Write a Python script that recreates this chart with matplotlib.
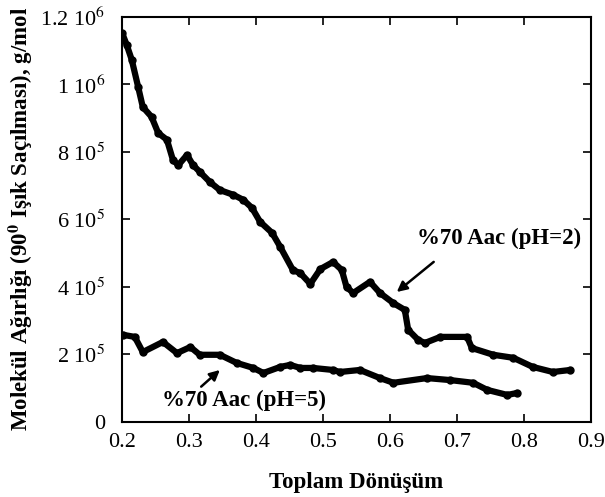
import numpy as np
import matplotlib
matplotlib.use('Agg')
import matplotlib.pyplot as plt

plt.rcParams['font.family'] = ['Liberation Serif', 'DejaVu Serif']
plt.rcParams['mathtext.fontset'] = 'stix'

# %70 Aac (pH=2)
x_ph2 = [0.200, 0.207, 0.2145, 0.224, 0.231, 0.244, 0.254, 0.267, 0.276, 0.284,
         0.297, 0.306, 0.316, 0.331, 0.346, 0.366, 0.381, 0.394, 0.406, 0.424,
         0.436, 0.455, 0.466, 0.481, 0.496, 0.515, 0.528, 0.535, 0.545, 0.570,
         0.585, 0.605, 0.622, 0.627, 0.642, 0.652, 0.675, 0.715, 0.722, 0.754,
         0.784, 0.813, 0.843, 0.869]
y_ph2 = [1.153e6, 1.117e6, 1.073e6, 0.993e6, 0.933e6, 0.904e6, 0.856e6, 0.836e6, 0.776e6, 0.761e6,
         0.791e6, 0.761e6, 0.741e6, 0.711e6, 0.687e6, 0.673e6, 0.658e6, 0.634e6, 0.593e6, 0.560e6,
         0.519e6, 0.450e6, 0.441e6, 0.409e6, 0.453e6, 0.474e6, 0.450e6, 0.400e6, 0.382e6, 0.415e6,
         0.382e6, 0.352e6, 0.332e6, 0.273e6, 0.243e6, 0.234e6, 0.252e6, 0.252e6, 0.219e6, 0.199e6,
         0.190e6, 0.163e6, 0.148e6, 0.154e6]

# %70 Aac (pH=5)
x_ph5 = [0.202, 0.219, 0.231, 0.261, 0.282, 0.302, 0.316, 0.346, 0.371, 0.396,
         0.411, 0.436, 0.451, 0.466, 0.485, 0.515, 0.525, 0.555, 0.585, 0.605,
         0.655, 0.690, 0.724, 0.745, 0.775, 0.790]
y_ph5 = [0.258e6, 0.252e6, 0.207e6, 0.237e6, 0.204e6, 0.222e6, 0.199e6, 0.199e6, 0.175e6, 0.160e6,
         0.145e6, 0.163e6, 0.169e6, 0.160e6, 0.160e6, 0.154e6, 0.148e6, 0.154e6, 0.130e6, 0.116e6,
         0.130e6, 0.124e6, 0.116e6, 0.095e6, 0.080e6, 0.086e6]

xticks = [0.2, 0.3, 0.4, 0.5, 0.6, 0.7, 0.8, 0.9]
yticks = [0, 2e5, 4e5, 6e5, 8e5, 1e6, 1.2e6]
ytick_labels = ['0', r'2 10$^5$', r'4 10$^5$', r'6 10$^5$', r'8 10$^5$',
                r'1 10$^6$', r'1.2 10$^6$']

fig = plt.figure(figsize=(6.05, 4.97), dpi=100)
ax = fig.add_axes([0.2017, 0.151, 0.7753, 0.815])

ax.plot(x_ph2, y_ph2, '-o', color='black', lw=4.5, ms=5, solid_capstyle='round')
ax.plot(x_ph5, y_ph5, '-o', color='black', lw=4.5, ms=5, solid_capstyle='round')

ax.set_xlim(0.2, 0.9)
ax.set_ylim(0, 1.2e6)
ax.set_xticks(xticks)
ax.set_xticklabels(['%.1f' % t for t in xticks])
ax.set_yticks(yticks)
ax.set_yticklabels(ytick_labels)
ax.tick_params(direction='in', length=6, width=1.2, top=True, right=True,
               labelsize=16)
ax.tick_params(axis='x', pad=8)
ax.tick_params(axis='y', pad=12)
for s in ax.spines.values():
    s.set_linewidth(1.5)

ax.set_xlabel('Toplam Dönüşüm', fontsize=16.5, fontweight='bold', labelpad=14)
ax.set_ylabel(r'Molekül Ağırlığı (90$^{\mathbf{0}}$ Işık Saçılması), g/mol',
              fontsize=16.5, fontweight='bold', labelpad=4)

ax.annotate('%70 Aac (pH=2)', xy=(0.610, 3.85e5), xytext=(0.763, 5.45e5),
            fontsize=16.5, fontweight='bold', ha='center', va='center',
            arrowprops=dict(arrowstyle='-|>', color='black', lw=1.8,
                            shrinkA=12, shrinkB=0, mutation_scale=15,
                            relpos=(0.2, 0.0)))
ax.annotate('%70 Aac (pH=5)', xy=(0.346, 1.54e5), xytext=(0.382, 0.65e5),
            fontsize=16.5, fontweight='bold', ha='center', va='center',
            arrowprops=dict(arrowstyle='-|>', color='black', lw=1.8,
                            shrinkA=0, shrinkB=0, mutation_scale=15,
                            relpos=(0.22, 1.0)))

plt.savefig('out.png', dpi=100)
